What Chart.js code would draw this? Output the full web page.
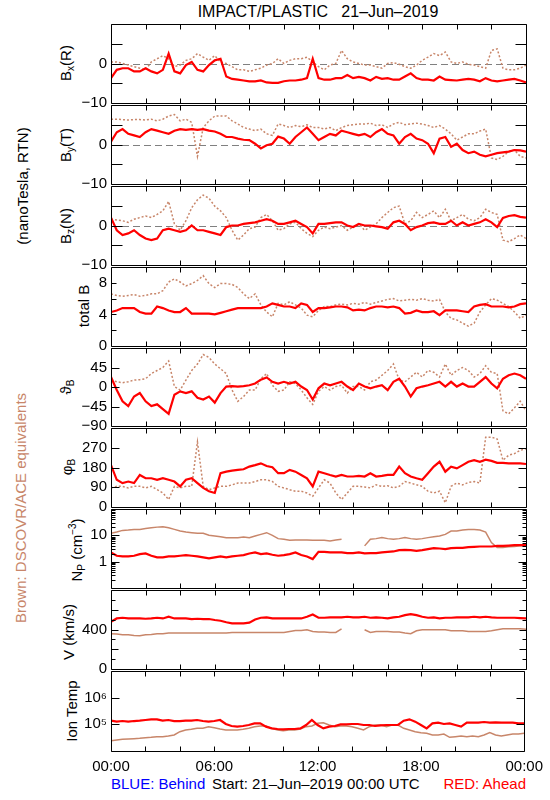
<!DOCTYPE html>
<html>
<head>
<meta charset="utf-8">
<script src="https://cdn.jsdelivr.net/npm/chart.js@4.4.0/dist/chart.umd.min.js"></script>
<style>
  html, body { margin: 0; padding: 0; background: #fff; }
  body { width: 550px; height: 800px; position: relative; overflow: hidden; font-family: 'Liberation Sans', Arial, sans-serif; }
  canvas { position: absolute; left: 0; }
  .t { position: absolute; white-space: pre; color: #000; font-size: 15px; line-height: 1; }
  .rot { position: absolute; width: 0; height: 0; }
  .rot span { position: absolute; left: 0; top: 0; white-space: pre; font-size: 15px; line-height: 1; transform: translate(-50%, -50%) rotate(-90deg); }
  sub { font-size: 10px; vertical-align: -3px; line-height: 0; }
  sup { font-size: 10px; vertical-align: 6px; line-height: 0; }
</style>
</head>
<body>
<div class="t" style="left:318px;top:12px;transform:translate(-50%,-50%);font-size:16px">IMPACT/PLASTIC   21–Jun–2019</div>

<div class="rot" style="left:22px;top:186px"><span>(nanoTesla, RTN)</span></div>
<div class="rot" style="left:20px;top:508px"><span style="color:#c8866a">Brown: DSCOVR/ACE equivalents</span></div>

<div class="rot" style="left:65px;top:63px"><span>B<sub>x</sub>(R)</span></div>
<div class="rot" style="left:65px;top:145px"><span>B<sub>y</sub>(T)</span></div>
<div class="rot" style="left:65px;top:226px"><span>B<sub>z</sub>(N)</span></div>
<div class="rot" style="left:83px;top:306px"><span>total B</span></div>
<div class="rot" style="left:65px;top:387px"><span>ϑ<sub>B</sub></span></div>
<div class="rot" style="left:66px;top:467px"><span>φ<sub>B</sub></span></div>
<div class="rot" style="left:76px;top:550px"><span>N<sub>P</sub> (cm<sup>−3</sup>)</span></div>
<div class="rot" style="left:68px;top:632px"><span>V (km/s)</span></div>
<div class="rot" style="left:71px;top:711px"><span>Ion Temp</span></div>

<div class="t" style="left:111px;top:776px;color:#0000ff">BLUE: Behind</div>
<div class="t" style="left:212px;top:776px">Start: 21–Jun–2019 00:00 UTC</div>
<div class="t" style="right:24px;top:776px;color:#ff0000">RED: Ahead</div>

<script>
// time axis: one sample every 20 minutes, 00:00 to 24:00
const STEP_H = 1 / 3;
const hourTicks = [0, 6, 12, 18, 24];
const hourLabels = ['00:00', '06:00', '12:00', '18:00', '00:00'];
const minorHours = [0, 2, 4, 6, 8, 10, 12, 14, 16, 18, 20, 22, 24];

// Bx (R), nT
const bxAhead = [-3.7, -1.6, -1.2, -1.2, -2.0, -2.0, -1.2, -2.0, -2.5, -1.6,
  2.5, -2.0, -2.5, -0.4, 0.4, -1.6, -2.0, -0.4, 0.8, 1.2,
  -3.3, -3.9, -4.1, -4.3, -4.5, -4.5, -4.3, -4.8, -4.9, -4.9,
  -4.5, -4.3, -4.3, -4.1, -3.7, 1.2, -3.7, -4.1, -4.1, -3.7,
  -3.7, -2.9, -3.7, -3.4, -3.7, -4.3, -3.4, -3.9, -3.7, -4.1,
  -4.1, -3.3, -2.5, -3.7, -4.1, -4.1, -4.3, -3.3, -4.1, -4.2,
  -4.3, -4.1, -3.9, -4.1, -4.5, -3.7, -4.3, -4.5, -4.3, -4.1,
  -3.9, -4.3, -4.8];
const bxDscovr = [0.4, 0.4, 0.0, -0.4, -0.8, -1.2, -1.6, 0.4, 1.2, 2.0,
  1.2, -0.8, -0.4, 0.8, 1.2, 2.5, 1.6, 0.8, 2.0, 0.4,
  0.0, -0.8, -1.6, -1.6, -2.0, -1.6, -1.2, -0.4, 0.0, 1.2,
  0.0, 0.8, 1.2, 1.2, 1.6, 0.4, -0.8, -1.6, -0.4, 0.0,
  3.3, 1.2, 0.4, 0.0, -0.4, -0.4, -0.8, -1.2, 0.0, 0.2,
  -0.2, -0.8, -1.2, -0.4, 0.8, 1.6, 2.5, 2.0, 2.9, 0.4,
  0.0, 0.4, -0.2, -0.4, -0.8, -1.2, 3.3, 3.7, -1.2, -1.6,
  -1.6, -1.2, -0.4];

// By (T), nT
const byAhead = [0.7, 3.1, 3.9, 2.7, 2.3, 1.9, 3.1, 3.9, 3.5, 3.1,
  2.7, 3.5, 3.9, 3.7, 3.9, 3.7, 3.9, 3.5, 3.3, 2.7,
  1.9, 1.9, 1.5, 1.2, 1.1, 0.2, -1.0, -0.2, 0.2, 2.0,
  1.5, 0.2, 1.9, 3.1, 4.3, 2.7, 1.1, 1.9, 2.7, 2.3,
  3.5, 3.1, 2.7, 2.3, 2.7, 1.9, 3.1, 3.9, 2.7, 2.3,
  0.2, 1.9, 2.7, 1.5, 1.1, 0.2, -2.2, 1.5, 1.9, -0.6,
  0.2, -1.4, -2.2, -1.8, -2.6, -3.0, -2.6, -2.2, -2.0, -1.8,
  -1.4, -1.5, -1.8];
const byDscovr = [6.4, 6.4, 6.3, 6.2, 6.3, 6.3, 6.2, 6.4, 6.0, 6.4,
  7.2, 7.6, 6.0, 6.4, 5.6, -3.0, 4.3, 6.0, 7.2, 7.2,
  7.2, 6.0, 5.2, 4.3, 3.9, 3.5, 3.9, 2.7, 2.3, 5.2,
  4.8, 4.3, 4.8, 4.5, 5.0, 4.3, 4.3, 3.9, 4.3, 3.5,
  4.3, 4.8, 5.0, 5.2, 5.2, 5.4, 4.8, 5.0, 4.3, 5.2,
  5.6, 5.0, 5.2, 5.4, 5.2, 4.8, 4.3, 4.8, 3.9, 2.7,
  1.1, 1.9, 2.7, 2.7, 3.4, 3.9, -3.4, -3.8, -3.0, -1.8,
  -1.4, -3.0, -3.4];

// Bz (N), nT
const bzAhead = [2.0, -1.2, -2.4, -2.0, -1.2, -2.4, -3.3, -3.7, -3.3, -1.2,
  -0.8, -1.2, -1.6, -1.2, 0.0, -1.2, -1.2, -1.6, -2.0, -2.4,
  -0.4, 0.0, 0.0, 0.4, 0.6, 0.8, 1.2, 1.6, 1.2, 0.4,
  0.4, 0.8, 1.2, 0.4, -0.4, -2.0, 0.4, 0.4, 0.6, 0.8,
  0.8, 0.0, -0.4, 0.4, 0.0, 0.0, -0.2, -0.4, -0.8, 0.8,
  1.2, 0.4, -1.2, -0.4, 0.0, 0.6, 0.8, 0.4, 0.4, 1.2,
  0.0, 0.8, 0.0, 0.4, 0.8, 1.6, 0.8, -0.4, 1.9, 2.4,
  2.6, 2.2, 2.0];
const bzDscovr = [1.6, 1.4, 1.2, 0.8, 1.6, 2.0, 2.4, 2.0, 2.8, 3.7,
  6.1, 0.4, -1.2, 1.2, 4.5, 6.5, 7.7, 6.9, 4.9, 3.7,
  2.0, -1.2, -3.7, -2.4, -0.8, -0.4, 2.0, 2.8, 1.2, -1.2,
  -0.8, 0.4, 0.8, -0.8, -2.0, -2.8, -1.2, -0.4, -0.8, -0.4,
  0.0, -1.2, -0.4, 0.4, -1.2, -0.4, 0.4, 2.0, 3.3, 4.5,
  4.9, 0.4, 1.2, 3.3, 2.0, 2.8, 3.7, 2.0, 4.1, 1.2,
  2.0, 2.8, 1.6, 1.2, 2.0, 4.1, 3.3, 2.8, -3.7, -4.1,
  -3.3, -2.4, -3.3];

// total B, nT
const btAhead = [4.3, 4.5, 4.8, 4.8, 4.8, 4.3, 4.1, 4.1, 5.0, 4.8,
  4.5, 4.3, 4.3, 4.8, 4.1, 4.1, 4.1, 4.1, 4.0, 4.2,
  4.4, 4.6, 4.8, 4.8, 4.8, 4.8, 4.8, 5.0, 5.4, 5.2,
  5.0, 5.0, 4.8, 5.4, 5.2, 4.3, 4.8, 4.8, 4.9, 5.0,
  5.0, 4.9, 4.5, 4.6, 4.5, 4.8, 5.0, 5.0, 4.9, 5.0,
  4.8, 4.1, 4.2, 4.5, 4.3, 4.3, 4.4, 3.9, 4.5, 4.5,
  4.5, 4.4, 4.3, 5.0, 5.2, 5.3, 5.0, 5.0, 5.0, 4.9,
  5.0, 5.3, 5.4];
const btDscovr = [6.6, 6.4, 6.3, 6.4, 6.5, 6.3, 6.4, 6.6, 6.6, 7.0,
  8.1, 8.5, 8.1, 7.6, 7.9, 8.3, 8.9, 7.9, 7.4, 7.9,
  7.9, 7.8, 7.4, 6.6, 6.0, 6.6, 5.2, 4.3, 3.7, 5.4,
  5.2, 5.6, 5.2, 4.8, 3.9, 3.7, 4.5, 5.0, 5.0, 5.2,
  5.3, 5.2, 5.4, 5.3, 5.5, 5.3, 5.5, 5.7, 5.9, 6.0,
  5.7, 5.8, 5.9, 5.8, 6.0, 5.8, 5.7, 5.9, 4.3, 3.5,
  3.3, 2.9, 2.5, 2.9, 4.3, 5.2, 6.0, 5.8, 5.4, 5.0,
  4.3, 3.5, 3.9];

// theta B, degrees
const thAhead = [23, -7, -33, -44, -22, -14, -33, -44, -40, -51,
  -62, -18, -10, -14, -10, -25, -29, -22, -36, -14,
  1, 2, 1, 2, 4, 8, 17, 22, 12, 8,
  12, 8, 12, 1, -7, -29, -3, 8, 4, 8,
  12, 1, -7, 8, 1, -3, 1, 4, -7, 12,
  19, 1, -22, -3, 1, 4, 8, 12, 1, 12,
  1, 8, 1, 1, 12, 23, 8, -3, 19, 27,
  31, 27, 19];
const thDscovr = [16, 12, 10, 12, 16, 17, 19, 31, 38, 45,
  60, 1, -7, 16, 38, 53, 75, 68, 53, 42,
  31, -7, -33, -22, -7, -7, 19, 31, 4, -10,
  -7, 12, 8, -7, -25, -40, -10, 1, -7, 1,
  4, -14, 1, 1, -7, 12, 16, 27, 38, 53,
  16, 12, 23, 34, 23, 38, 34, 23, 53, 27,
  38, 45, 38, 23, 31, 49, 34, 31, -55, -62,
  -48, -33, -55];

// phi B, degrees
const phAhead = [191, 124, 109, 116, 109, 146, 131, 131, 124, 131,
  124, 116, 94, 124, 131, 109, 87, 72, 64, 154,
  161, 166, 169, 172, 184, 191, 199, 187, 181, 154,
  154, 169, 161, 146, 131, 94, 161, 154, 146, 139,
  146, 139, 139, 142, 139, 154, 139, 142, 146, 146,
  184, 154, 139, 131, 124, 154, 184, 206, 161, 184,
  176, 191, 206, 213, 206, 216, 210, 201, 201, 199,
  199, 199, 196];
const phDscovr = [87, 94, 94, 87, 94, 94, 87, 94, 79, 64,
  34, 94, 87, 94, 94, 296, 94, 79, 87, 94,
  94, 101, 109, 109, 109, 116, 124, 124, 116, 94,
  87, 79, 72, 72, 64, 49, 87, 124, 109, 64,
  34, 64, 94, 94, 91, 87, 101, 94, 97, 87,
  94, 116, 109, 101, 94, 72, 64, 72, 19, 94,
  109, 101, 112, 116, 109, 318, 318, 310, 213, 236,
  243, 258, 266];

// proton density, cm^-3
const npAhead = [2.24, 1.68, 1.58, 1.58, 1.68, 1.94, 2.05, 1.68, 1.45, 1.45,
  1.58, 1.58, 1.68, 1.78, 1.68, 1.58, 1.45, 1.33, 1.45, 1.58,
  1.45, 1.58, 1.68, 1.78, 2.05, 2.24, 1.94, 2.05, 1.83, 1.68,
  1.78, 1.94, 2.24, 1.78, 1.58, 1.26, 2.37, 2.37, 2.24, 2.24,
  2.24, 2.11, 2.11, 2.24, 2.05, 2.11, 2.11, 2.24, 2.37, 2.44,
  2.74, 2.82, 2.74, 2.59, 2.74, 2.99, 3.25, 3.16, 2.99, 3.25,
  3.35, 3.35, 3.55, 3.65, 3.76, 3.76, 3.76, 3.98, 3.98, 4.10,
  4.22, 4.22, 4.22];
const npDscovr = [11.9, 13.3, 15.4, 15.8, 16.8, 16.8, 18.3, 19.4, 20.5, 21.1,
  19.4, 16.8, 14.5, 13.3, 12.6, 11.9, 11.9, 10.0, 9.44, 8.91,
  8.18, 8.18, 8.18, 8.66, 8.18, 9.44, 10.9, 12.6, 10.0, 7.50,
  7.08, 6.49, 6.68, 6.68, 6.68, 6.49, 6.49, 6.49, 6.13, 6.68,
  7.08, null, null, null, 3.98, 7.08, 7.50, 8.18, 7.50, 7.08,
  7.50, 8.18, 7.50, 7.08, 7.50, 8.18, 8.91, 9.44, 10.9, 14.5,
  14.5, 15.8, 16.8, 16.8, 15.8, 13.3, 5.31, 3.45, 3.45, 3.65,
  3.76, 3.98, 3.98];

// bulk speed, km/s
const vAhead = [479, 512, 519, 512, 512, 512, 509, 512, 519, 512,
  529, 512, 512, 512, 506, 509, 506, 506, 496, 489,
  473, 463, 463, 463, 469, 502, 519, 522, 512, 512,
  512, 512, 512, 512, 529, 552, 519, 519, 522, 522,
  522, 529, 522, 522, 529, 519, 522, 519, 512, 522,
  529, 545, 555, 545, 529, 519, 522, 512, 519, 519,
  522, 522, 522, 529, 522, 529, 522, 519, 519, 519,
  519, 516, 512];
const vDscovr = [357, 354, 347, 347, 340, 337, 347, 350, 357, 357,
  364, 364, 364, 364, 364, 364, 364, 364, 364, 364,
  364, 370, 370, 370, 370, 370, 370, 370, 370, 370,
  370, 380, 390, 390, 397, 380, 374, 374, 370, 370,
  407, null, null, null, 397, 370, 380, 380, 380, 374,
  374, 364, 357, 387, 397, 397, 397, 397, 397, 387,
  387, 387, 380, 380, 380, 380, 387, 397, 407, 407,
  407, 407, 403];

// ion temperature, K
const tAhead = [137000, 126000, 133000, 126000, 133000, 137000, 145000, 154000, 154000, 137000,
  145000, 133000, 133000, 137000, 137000, 145000, 133000, 126000, 133000, 145000,
  103000, 86600, 81800, 86600, 94400, 109000, 109000, 81800, 70800, 66800,
  64900, 66800, 66800, 70800, 94400, 145000, 94400, 70800, 81800, 86600,
  100000, 100000, 103000, 103000, 94400, 94400, 86600, 91700, 94400, 94400,
  94400, 137000, 154000, 126000, 94400, 70800, 109000, 115000, 103000, 109000,
  94400, 81800, 115000, 115000, 115000, 122000, 115000, 119000, 115000, 115000,
  115000, 109000, 109000];
const tDscovr = [24400, 25900, 27400, 28200, 29000, 29900, 31600, 32600, 34500, 34500,
  36500, 39800, 53100, 61300, 64900, 70800, 70800, 81800, 75000, 66800,
  61300, 61300, 61300, 64900, 70800, 81800, 86600, 86600, 70800, 61300,
  57900, 61300, 61300, 66800, 81800, 86600, 109000, 115000, 94400, 81800,
  86600, 86600, 81800, 70800, 61300, 81800, 94400, 94400, 81800, 94400,
  94400, 70800, 61300, 53100, 48700, 46000, 39800, 39800, 43400, 32600,
  34500, 36500, 34500, 36500, 34500, 39800, 48700, 39800, 36500, 39800,
  43400, 43400, 46000];

// y tick labels and tick marks
const bTickVals = [-10, 0];
const bMarks = [-5, 0, 5];
const btTickVals = [0, 4, 8];
const btMarks = [2, 4, 6, 8];
const thTickVals = [-90, -45, 0, 45];
const thMarks = [-45, 0, 45];
const phTickVals = [0, 90, 180, 270];
const phMarks = [90, 180, 270];
const npTickVals = [1, 10];
const npMinor = [0.2, 0.3, 0.4, 0.5, 0.6, 0.7, 0.8, 0.9, 2, 3, 4, 5, 6, 7, 8, 9, 20, 30, 40, 50, 60, 70, 80, 90];
const vTickVals = [0, 400];
const vMajor = [200, 400, 600];
const vMinor = [100, 300, 500, 700];
const tTickVals = [1e5, 1e6];
const powerText = { 100000: '10⁵', 1000000: '10⁶' };

const RED = '#ff0000';
const BROWN = '#c8866a';
const FONT = { family: "'Liberation Sans', Arial, sans-serif", size: 15 };

const panels = [
  { top: 23,  bottom: 104, ahead: bxAhead, dscovr: bxDscovr, min: -10, max: 10, tickVals: bTickVals, marks: bMarks.map(v => [v, 11]), zero: true, dotted: true },
  { top: 104, bottom: 185, ahead: byAhead, dscovr: byDscovr, min: -10, max: 10, tickVals: bTickVals, marks: bMarks.map(v => [v, 11]), zero: true, dotted: true },
  { top: 185, bottom: 266, ahead: bzAhead, dscovr: bzDscovr, min: -10, max: 10, tickVals: bTickVals, marks: bMarks.map(v => [v, 11]), zero: true, dotted: true },
  { top: 266, bottom: 347, ahead: btAhead, dscovr: btDscovr, min: 0, max: 10, tickVals: btTickVals, marks: btMarks.map(v => [v, 5]), dotted: true },
  { top: 347, bottom: 427, ahead: thAhead, dscovr: thDscovr, min: -90, max: 90, tickVals: thTickVals, marks: thMarks.map(v => [v, 8]), dotted: true },
  { top: 427, bottom: 508, ahead: phAhead, dscovr: phDscovr, min: 0, max: 360, tickVals: phTickVals, marks: phMarks.map(v => [v, 8]), dotted: true },
  { top: 508, bottom: 589, ahead: npAhead, dscovr: npDscovr, min: 0.1, max: 100, log: true, tickVals: npTickVals,
    marks: npTickVals.map(v => [v, 8]).concat(npMinor.map(v => [v, 4])) },
  { top: 589, bottom: 670, ahead: vAhead, dscovr: vDscovr, min: 0, max: 800, tickVals: vTickVals,
    marks: vMajor.map(v => [v, 7]).concat(vMinor.map(v => [v, 4])) },
  { top: 670, bottom: 751, ahead: tAhead, dscovr: tDscovr, min: 1e4, max: 1e7, log: true, tickVals: tTickVals, marks: tTickVals.map(v => [v, 8]) }
];

// box, inward tick marks and dashed zero line
const frame = {
  id: 'frame',
  beforeDatasetsDraw(chart, args, o) {
    if (!o.zero) return;
    const { ctx, chartArea: a, scales: { y } } = chart;
    const py = Math.round(y.getPixelForValue(0)) + 0.5;
    ctx.save();
    ctx.strokeStyle = '#808080';
    ctx.lineWidth = 1;
    ctx.setLineDash([7, 4]);
    ctx.beginPath();
    ctx.moveTo(a.left, py);
    ctx.lineTo(a.right, py);
    ctx.stroke();
    ctx.restore();
  },
  afterDatasetsDraw(chart, args, o) {
    const { ctx, chartArea: a, scales: { x, y } } = chart;
    const L = Math.round(a.left) + 0.5, R = Math.round(a.right) + 0.5;
    const T = Math.round(a.top) + 0.5, B = Math.round(a.bottom) + 0.5;
    ctx.save();
    ctx.strokeStyle = '#000';
    ctx.lineWidth = 1;
    ctx.beginPath();
    ctx.rect(L, T, R - L, B - T);
    for (const h of minorHours) {
      const px = Math.round(x.getPixelForValue(h)) + 0.5;
      ctx.moveTo(px, T); ctx.lineTo(px, T + 5);
      ctx.moveTo(px, B); ctx.lineTo(px, B - 5);
    }
    for (const [v, len] of o.marks) {
      const py = Math.round(y.getPixelForValue(v)) + 0.5;
      ctx.moveTo(L, py); ctx.lineTo(L + len, py);
      ctx.moveTo(R, py); ctx.lineTo(R - len, py);
    }
    ctx.stroke();
    ctx.restore();
  }
};

const pts = arr => arr.map((v, i) => ({ x: i * STEP_H, y: v }));
const fmt = v => powerText[v] || (v < 0 ? '−' + (-v) : String(v));

panels.forEach((p, i) => {
  const last = i === panels.length - 1;
  const pad = 12;
  const top = p.top - pad;
  const height = last ? 800 - top : (p.bottom - p.top) + 2 * pad;
  const xAxisHeight = last ? height - pad - (p.bottom - p.top) : 0;
  const cv = document.createElement('canvas');
  cv.width = 550;
  cv.height = height;
  cv.style.top = top + 'px';
  document.body.appendChild(cv);

  new Chart(cv.getContext('2d'), {
    type: 'line',
    data: {
      datasets: [
        { data: pts(p.ahead), borderColor: RED, borderWidth: 2.2, pointRadius: 0, tension: 0, spanGaps: false },
        { data: pts(p.dscovr), borderColor: BROWN, borderWidth: 1.5, borderDash: p.dotted ? [2, 2] : [],
          pointRadius: 0, tension: 0, spanGaps: false }
      ]
    },
    options: {
      responsive: false,
      animation: false,
      devicePixelRatio: 1,
      events: [],
      layout: { padding: { left: 0, right: 24, top: pad, bottom: last ? 0 : pad } },
      plugins: {
        legend: { display: false },
        tooltip: { enabled: false },
        frame: { zero: !!p.zero, marks: p.marks }
      },
      scales: {
        x: {
          type: 'linear', min: 0, max: 24, display: last,
          grid: { display: false, drawTicks: false },
          border: { display: false },
          afterBuildTicks: s => { s.ticks = hourTicks.map(v => ({ value: v })); },
          afterFit: s => { s.height = xAxisHeight; },
          ticks: { padding: 7, autoSkip: false, maxRotation: 0, color: '#000', font: FONT,
            callback: (v, k) => hourLabels[k] }
        },
        y: {
          type: p.log ? 'logarithmic' : 'linear', min: p.min, max: p.max,
          grid: { display: false, drawTicks: false },
          border: { display: false },
          afterBuildTicks: s => { s.ticks = p.tickVals.map(v => ({ value: v })); },
          afterFit: s => { s.width = 111; },
          ticks: { padding: 4, autoSkip: false, color: '#000', font: FONT, callback: v => fmt(v) }
        }
      }
    },
    plugins: [frame]
  });
});
</script>
</body>
</html>
